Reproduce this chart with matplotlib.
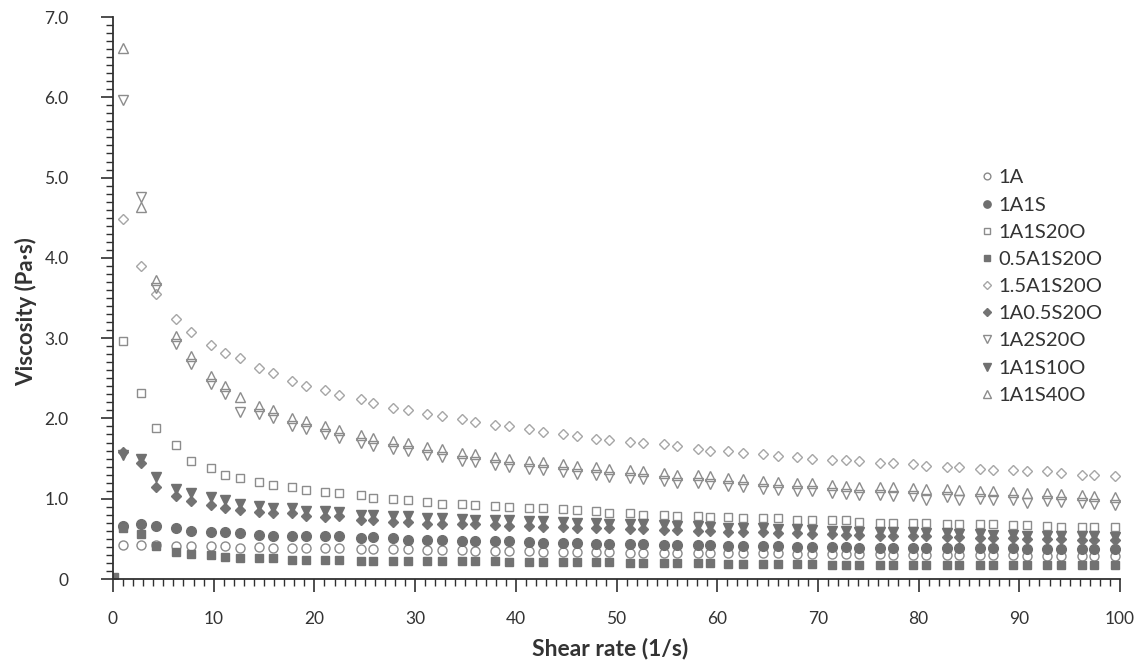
from matplotlib import pyplot as plt
from matplotlib.ticker import MultipleLocator, FuncFormatter
import numpy as np

nan = np.nan

# shear rate (1/s); first entry only carries the 0.5A1S20O start point
shear_rate = [0.1, 1.0, 2.8, 4.3, 6.3, 7.7, 9.7, 11.1, 12.6, 14.5, 15.9,
              17.8, 19.2, 21.1, 22.4, 24.6, 25.8, 27.8, 29.3, 31.2, 32.7,
              34.7, 35.9, 37.9, 39.3, 41.3, 42.7, 44.7, 46.1, 48.0, 49.3,
              51.3, 52.6, 54.7, 56.0, 58.1, 59.3, 61.1, 62.6, 64.5, 66.0,
              67.9, 69.4, 71.4, 72.8, 74.1, 76.2, 77.5, 79.4, 80.7, 82.8,
              84.0, 86.1, 87.4, 89.4, 90.8, 92.8, 94.1, 96.2, 97.4, 99.5]

v_1A = [nan, 0.42, 0.42, 0.42, 0.41, 0.41, 0.41, 0.41,
        0.39, 0.40, 0.39, 0.39, 0.38, 0.38, 0.38, 0.37, 0.37, 0.37, 0.37, 0.36,
        0.36, 0.36, 0.35, 0.35, 0.35, 0.35, 0.34, 0.34, 0.34, 0.34, 0.34, 0.33,
        0.33, 0.33, 0.33, 0.33, 0.32,
        0.32, 0.32, 0.32, 0.32, 0.31, 0.31, 0.31, 0.31, 0.31, 0.31, 0.30, 0.30,
        0.30, 0.30, 0.30, 0.30, 0.30, 0.30, 0.29, 0.29, 0.29, 0.29, 0.29, 0.29]

v_1A1S = [nan, 0.66, 0.69, 0.66, 0.64, 0.60, 0.59, 0.59, 0.57,
          0.55, 0.54, 0.54, 0.53, 0.53, 0.53, 0.51, 0.52, 0.51, 0.49, 0.49,
          0.49, 0.47, 0.47, 0.47, 0.47, 0.46, 0.45, 0.45, 0.45, 0.44, 0.44,
          0.44, 0.44, 0.42, 0.42, 0.42, 0.42,
          0.41, 0.41, 0.41, 0.41, 0.40, 0.40, 0.40, 0.40, 0.39, 0.39, 0.39,
          0.39, 0.38, 0.38, 0.38, 0.38, 0.38, 0.38, 0.37, 0.37, 0.37, 0.37,
          0.37, 0.37]

v_1A1S20O = [nan, 2.97, 2.32, 1.88, 1.67, 1.47, 1.38, 1.29, 1.26, 1.21, 1.17,
             1.14, 1.11, 1.08, 1.07, 1.05, 1.01, 1.00, 0.98, 0.96, 0.94,
             0.94, 0.92, 0.91, 0.90, 0.89, 0.88, 0.87, 0.86, 0.85, 0.82,
             0.82, 0.80, 0.80, 0.78, 0.78, 0.77, 0.77, 0.76, 0.76, 0.76,
             0.74, 0.74, 0.73, 0.73, 0.71, 0.70, 0.70, 0.70, 0.70, 0.69,
             0.68, 0.68, 0.68, 0.67, 0.67, 0.66, 0.65, 0.65, 0.65, 0.65]

v_05A1S20O = [0.03, 0.64, 0.56, 0.41, 0.34, 0.31, 0.30, 0.28, 0.26, 0.26, 0.26,
              0.24, 0.24, 0.24, 0.24, 0.22, 0.22, 0.22, 0.22, 0.22, 0.22,
              0.22, 0.22, 0.22, 0.21, 0.21, 0.21, 0.21, 0.21, 0.21, 0.21,
              0.20, 0.20, 0.20, 0.20, 0.20, 0.20, 0.19, 0.19, 0.19, 0.19,
              0.19, 0.19, 0.18, 0.18, 0.18, 0.18, 0.18, 0.18, 0.18, 0.18,
              0.17, 0.17, 0.17, 0.17, 0.17, 0.17, 0.17, 0.17, 0.17, 0.17]

v_15A1S20O = [nan, 4.48, 3.90, 3.55, 3.24, 3.08, 2.91, 2.81, 2.75, 2.63, 2.57,
              2.47, 2.41, 2.35, 2.29, 2.24, 2.19, 2.13, 2.10, 2.06, 2.03,
              1.99, 1.96, 1.92, 1.91, 1.87, 1.83, 1.80, 1.78, 1.74, 1.73,
              1.71, 1.69, 1.68, 1.66, 1.62, 1.60, 1.59, 1.57, 1.56, 1.53,
              1.52, 1.50, 1.48, 1.48, 1.47, 1.45, 1.44, 1.43, 1.41, 1.39,
              1.39, 1.37, 1.36, 1.36, 1.34, 1.34, 1.32, 1.30, 1.29, 1.28]

v_1A05S20O = [nan, 1.58, 1.45, 1.15, 1.04, 0.97, 0.92, 0.89, 0.86, 0.84, 0.82,
              0.82, 0.78, 0.77, 0.78, 0.73, 0.73, 0.71, 0.71, 0.69, 0.69,
              0.68, 0.68, 0.67, 0.66, 0.66, 0.65, 0.65, 0.64, 0.63, 0.63,
              0.62, 0.62, 0.61, 0.61, 0.60, 0.60, 0.59, 0.58, 0.58, 0.57,
              0.57, 0.56, 0.56, 0.55, 0.55, 0.54, 0.54, 0.53, 0.53, 0.52,
              0.52, 0.51, 0.51, 0.51, 0.50, 0.50, 0.50, 0.49, 0.49, 0.49]

v_1A2S20O = [nan, 5.96, 4.76, 3.63, 2.93, 2.68, 2.43, 2.30, 2.08, 2.05, 2.01,
             1.91, 1.87, 1.81, 1.76, 1.69, 1.66, 1.62, 1.59, 1.55, 1.52,
             1.47, 1.46, 1.42, 1.40, 1.37, 1.36, 1.33, 1.31, 1.29, 1.27,
             1.26, 1.24, 1.22, 1.20, 1.19, 1.18, 1.16, 1.15, 1.12, 1.11,
             1.10, 1.09, 1.07, 1.06, 1.05, 1.05, 1.04, 1.03, 0.99, 1.02,
             0.98, 1.00, 0.99, 0.98, 0.95, 0.97, 0.96, 0.95, 0.94, 0.92]

v_1A1S10O = [nan, 1.55, 1.49, 1.27, 1.12, 1.07, 1.02, 0.99, 0.94, 0.91, 0.88,
             0.88, 0.85, 0.85, 0.84, 0.80, 0.80, 0.78, 0.78, 0.76, 0.76,
             0.75, 0.74, 0.74, 0.73, 0.72, 0.72, 0.71, 0.70, 0.70, 0.69,
             0.68, 0.68, 0.67, 0.66, 0.66, 0.65, 0.64, 0.63, 0.63, 0.62,
             0.62, 0.61, 0.60, 0.60, 0.59, 0.59, 0.58, 0.58, 0.57, 0.57,
             0.56, 0.56, 0.55, 0.55, 0.54, 0.54, 0.53, 0.53, 0.53, 0.52]

v_1A1S40O = [nan, 6.62, 4.63, 3.73, 3.03, 2.78, 2.53, 2.40, 2.27, 2.15, 2.11,
             2.01, 1.97, 1.91, 1.86, 1.79, 1.76, 1.72, 1.69, 1.65, 1.62,
             1.57, 1.56, 1.52, 1.50, 1.47, 1.46, 1.43, 1.41, 1.39, 1.37,
             1.36, 1.34, 1.32, 1.30, 1.29, 1.28, 1.26, 1.25, 1.22, 1.21,
             1.20, 1.19, 1.17, 1.16, 1.15, 1.15, 1.14, 1.13, 1.12, 1.12,
             1.11, 1.10, 1.09, 1.08, 1.07, 1.07, 1.06, 1.05, 1.04, 1.02]

# label, values, marker, size, face, edge
series = [
    ("1A", v_1A, "o", 6.5, "none", "#8a8a8a"),
    ("1A1S", v_1A1S, "o", 7, "#6f6f6f", "#6f6f6f"),
    ("1A1S20O", v_1A1S20O, "s", 6, "none", "#8c8c8c"),
    ("0.5A1S20O", v_05A1S20O, "s", 6, "#727272", "#727272"),
    ("1.5A1S20O", v_15A1S20O, "D", 5, "none", "#a6a6a6"),
    ("1A0.5S20O", v_1A05S20O, "D", 5, "#737373", "#737373"),
    ("1A2S20O", v_1A2S20O, "v", 7, "none", "#8c8c8c"),
    ("1A1S10O", v_1A1S10O, "v", 7, "#707070", "#707070"),
    ("1A1S40O", v_1A1S40O, "^", 7, "none", "#8c8c8c"),
]

plt.rcParams["font.family"] = ["Lato", "DejaVu Sans"]

fig = plt.figure(figsize=(11.4, 6.68), dpi=100)
ax = fig.add_axes([113 / 1140, 89 / 668, 1007 / 1140, 562 / 668])

for label, vals, mk, ms, face, edge in series:
    ax.plot(shear_rate, vals, linestyle="none", marker=mk, markersize=ms,
            markerfacecolor=face, markeredgecolor=edge, markeredgewidth=1.0,
            label=label)

ax.set_xlim(0, 100)
ax.set_ylim(0, 7)
ax.xaxis.set_major_locator(MultipleLocator(10))
ax.xaxis.set_minor_locator(MultipleLocator(1))
ax.yaxis.set_major_locator(MultipleLocator(1))
ax.yaxis.set_minor_locator(MultipleLocator(0.1))
ax.yaxis.set_major_formatter(FuncFormatter(lambda v, p: "0" if v == 0 else "%.1f" % v))

for s in ["top", "right"]:
    ax.spines[s].set_visible(False)
for s in ["left", "bottom"]:
    ax.spines[s].set_linewidth(1.3)
    ax.spines[s].set_color("#303030")

ax.tick_params(which="major", direction="out", length=9, width=1.2, color="#303030",
               labelsize=12.5, labelcolor="#333333")
ax.tick_params(which="minor", direction="out", length=5, width=1.0, color="#303030")
ax.tick_params(axis="y", which="major", pad=23)
ax.tick_params(axis="x", which="major", pad=14)

ax.set_xlabel("Shear rate (1/s)", fontsize=16.5, fontweight="bold", color="#333333")
ax.set_ylabel("Viscosity (Pa·s)", fontsize=16, fontweight="bold", color="#333333")
ax.xaxis.set_label_coords(0.4935, -0.105)
ax.yaxis.set_label_coords(-0.075, 0.475)

ax.legend(loc="upper left", bbox_to_anchor=(0.862, 0.729), frameon=False,
          fontsize=14.5, handlelength=0.6, handletextpad=0.28, labelspacing=0.5,
          borderpad=0, borderaxespad=0, markerscale=0.75, labelcolor="#333333")

plt.savefig("out.png", dpi=100)
